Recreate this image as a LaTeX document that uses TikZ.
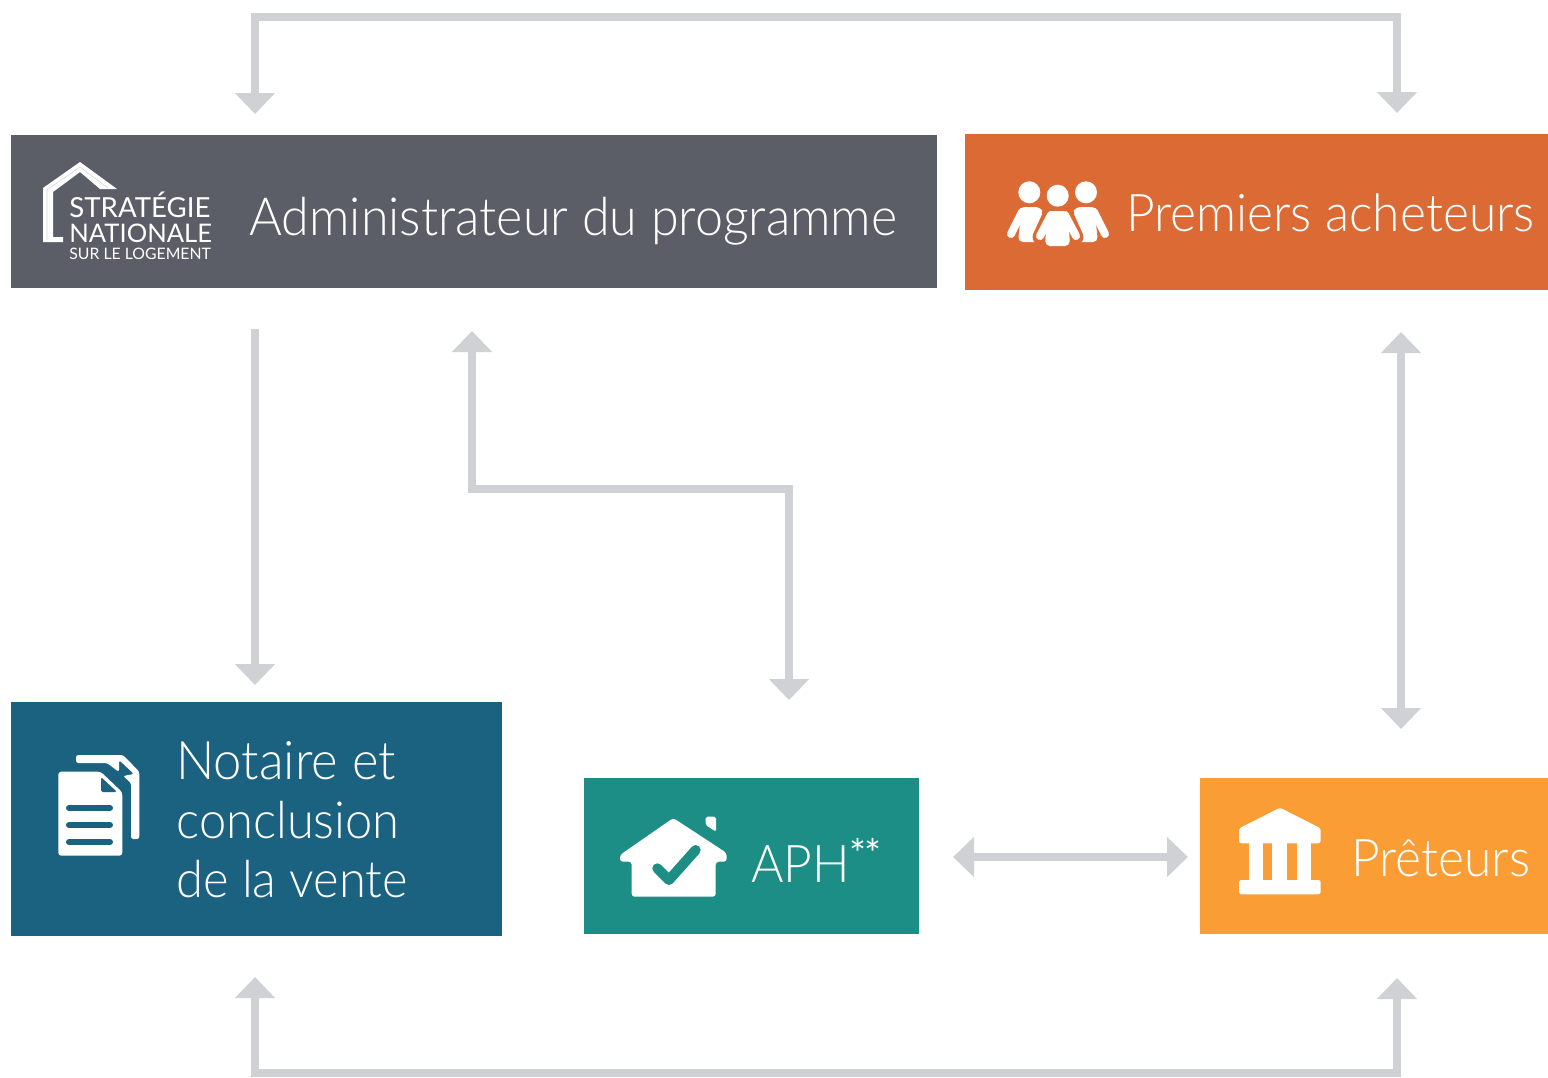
\documentclass[tikz,border=0pt]{standalone}
\usepackage{fontspec}
\setmainfont[FakeStretch=0.955]{Lato Light}
\newfontfamily\logofont{Lato}
\usetikzlibrary{arrows.meta,positioning}
\definecolor{admincol}{HTML}{5B5E66}
\definecolor{buyercol}{HTML}{DC6A35}
\definecolor{notarycol}{HTML}{1B6280}
\definecolor{aphcol}{HTML}{1C8E85}
\definecolor{lendercol}{HTML}{F99D34}
\definecolor{linkcol}{HTML}{D0D1D5}
\tikzset{
  box/.style={inner sep=0pt, outer sep=0pt},
  label/.style={text=white, anchor=base west, inner sep=0pt, font=\fontsize{26}{31}\selectfont},
  logotext/.style={text=white, anchor=base west, inner sep=0pt},
  link/.style={draw=linkcol, line width=4pt, >={Triangle[length=10.5pt,width=19.5pt]}},
  icon/.style={fill=white, draw=none}
}
\begin{document}
\begin{tikzpicture}[x=0.5pt,y=-0.5pt]
    \useasboundingbox (0,0) rectangle (1548,1077);

    \node (admin) [box, fill=admincol, minimum width=463pt, minimum height=76.5pt] at (474,211.5) {};
    \node (buyers) [box, fill=buyercol, minimum width=291.5pt, minimum height=78pt] at (1256.5,212) {};
    \node (notary) [box, fill=notarycol, minimum width=245.5pt, minimum height=117pt] at (256.5,819) {};
    \node (aph) [box, fill=aphcol, minimum width=167.5pt, minimum height=78pt] at (751.5,856) {};
    \node (lenders) [box, fill=lendercol, minimum width=174pt, minimum height=78pt] at (1374,856) {};

    \node (adminlabel) [label, font=\fontsize{26.3}{31}\selectfont] at (249,235) {Administrateur du programme};
    \node (buyerslabel) [label] at (1126,231) {Premiers acheteurs};
    \node (notarylabel1) [label, font=\fontsize{26.6}{31}\selectfont] at (176,779) {Notaire et};
    \node (notarylabel2) [label, font=\fontsize{25.6}{31}\selectfont] at (176,838) {conclusion};
    \node (notarylabel3) [label, font=\fontsize{25.6}{31}\selectfont] at (176,897) {de la vente};
    \node (aphlabel) [label] at (751,882) {APH\kern-.5pt\raisebox{7pt}{\logofont\fontsize{20}{20}\selectfont *\kern-1pt*}};
    \node (lenderslabel) [label] at (1351,876) {Prêteurs};

    % logo
    \fill[white] (43,242) -- (43,188) -- (80,162) -- (117,189) -- (100,189) -- (80,172) -- (53,192) -- (53,237) -- (63,237) -- (63,242) -- cycle;
    \draw[admincol!25!white, line width=.3pt] (47,240) -- (47,190) -- (80,167) -- (108,188);
    \node (logo1) [logotext, font=\logofont\fontsize{13.8}{16}\selectfont] at (69,217) {STRATÉGIE};
    \node (logo2) [logotext, font=\logofont\fontsize{12.8}{16}\selectfont] at (69,242) {NATIONALE};
    \node (logo3) [logotext, font=\logofont\fontsize{7.9}{10}\selectfont] at (69,259) {SUR LE LOGEMENT};

    % people
    \fill[white] (1029.3,192.3) circle (11);
    \fill[white] (1086,192.3) circle (11);
    \fill[icon, rounded corners=2.5pt] (1019,207) -- (1040,207) -- (1052,225) -- (1046,242) -- (1018,242) -- (1020,224) -- cycle;
    \draw[white, line width=4pt, line cap=round] (1022,212) -- (1011,234);
    \fill[icon, rounded corners=2.5pt] (1076,207) -- (1097,207) -- (1096,224) -- (1098,242) -- (1070,242) -- (1064,225) -- cycle;
    \draw[white, line width=4pt, line cap=round] (1094,212) -- (1105,234);
    \draw[buyercol, line width=7.5pt, line cap=round] (1050,215) -- (1040,237);
    \draw[buyercol, line width=7.5pt, line cap=round] (1066,215) -- (1076,237);
    \fill[buyercol, rounded corners=2.5pt] (1042,207) -- (1074,207) -- (1074,250) -- (1042,250) -- cycle;
    \fill[white] (1057.7,195.7) circle (11);
    \fill[icon, rounded corners=2.5pt] (1047,211) -- (1068,211) -- (1070,246) -- (1045,246) -- cycle;
    \draw[white, line width=4pt, line cap=round] (1051,215) -- (1040,236);
    \draw[white, line width=4pt, line cap=round] (1065,215) -- (1076,236);

    % documents
    \fill[icon, rounded corners=1.2pt] (76,755) -- (123,755) -- (139.3,771.7) -- (139.3,839) -- (131,839) -- (131,783) -- (123,776) -- (134,774) -- (119,760) -- (119,772) -- (107,763) -- (76,763) -- cycle;
    \fill[icon, rounded corners=1.5pt] (58.3,771.7) -- (100.7,771.7) -- (122.3,792.3) -- (122.3,855.7) -- (58.3,855.7) -- cycle;
    \fill[notarycol, rounded corners=.8pt] (101,777) -- (117,792) -- (101,792) -- cycle;
    \foreach \y in {808,825,842}
        \draw[notarycol, line width=3pt, line cap=round] (69,\y) -- (110,\y);

    % house
    \fill[icon, rounded corners=1.5pt] (673.3,818) -- (726.7,853) -- (726.7,861.7) -- (715.7,861.7) -- (715.7,896.7) -- (631.7,896.7) -- (631.7,861.7) -- (620,861.7) -- (620,855) -- cycle;
    \fill[icon, rounded corners=.8pt] (705.7,816.7) -- (716,816.7) -- (716,831.7) -- (705.7,825) -- cycle;
    \draw[aphcol, line width=5pt, line cap=round, line join=round] (657.3,868.3) -- (669,880) -- (695.7,850);

    % bank
    \fill[icon, rounded corners=1.2pt] (1280,807.7) -- (1320.7,828.3) -- (1320.7,843.3) -- (1239,843.3) -- (1239,828.3) -- cycle;
    \foreach \x in {1249,1272.3,1296.7}
        \fill[white] (\x,840) rectangle ++(14.3,44);
    \fill[icon, rounded corners=1.2pt] (1239,880) rectangle (1320.7,894.3);

    % free ends of the connectors
    \coordinate (topleft) at (255,114);
    \coordinate (topright) at (1397,113);
    \coordinate (botleft) at (255,977);
    \coordinate (botright) at (1397,978);
    \coordinate (adminout) at (255,329);
    \coordinate (notaryin) at (255,685);
    \coordinate (adminin) at (472,331);
    \coordinate (aphin) at (789,700);
    \coordinate (buyersin) at (1401,332);
    \coordinate (lendersin) at (1401,729);
    \coordinate (aphside) at (953,857);
    \coordinate (lendersside) at (1188,857);

    % Create edge connections
    \draw[link, <->] (topleft) -- (255,17) -- (1397,17) -- (topright);
    \draw[link, <->] (botleft) -- (255,1073) -- (1397,1073) -- (botright);
    \draw[link, ->] (adminout) -- (notaryin);
    \draw[link, <->] (adminin) -- (472,489) -- (789,489) -- (aphin);
    \draw[link, <->] (buyersin) -- (lendersin);
    \draw[link, <->] (aphside) -- (lendersside);
\end{tikzpicture}
\end{document}
